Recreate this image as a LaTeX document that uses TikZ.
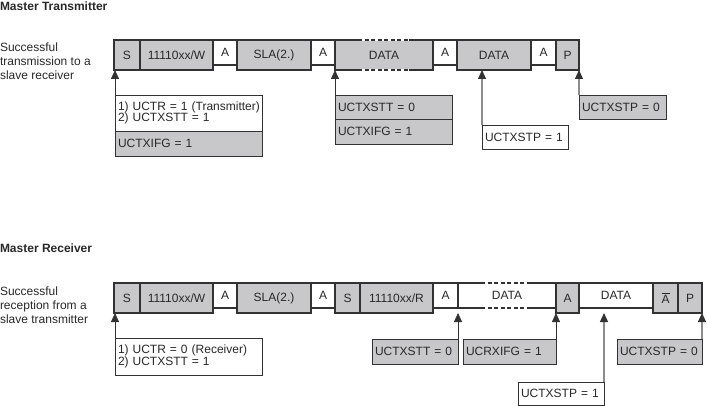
\documentclass[tikz,border=0pt]{standalone}
\usepackage{fontspec}
\setmainfont{Liberation Sans}
\usetikzlibrary{positioning,arrows.meta}
\definecolor{fieldgray}{RGB}{200,200,202}
\definecolor{framegray}{RGB}{50,50,50}
\definecolor{inkgray}{RGB}{40,40,40}

\begin{document}
\begin{tikzpicture}[x=1pt,y=-1pt,
		every node/.style={font=\fontsize{12}{11.5}\selectfont, text=inkgray, inner sep=0pt, outer sep=0pt},
		mfield/.style={draw=framegray, line width=1.5pt, fill=fieldgray, minimum height=30pt, minimum width=#1, anchor=north west},
		sfield/.style={draw=framegray, line width=1.5pt, fill=white, minimum height=25pt, minimum width=#1, anchor=north west},
		ctlbox/.style={draw=framegray, line width=0.8pt, fill=fieldgray, align=left, inner xsep=3pt},
		ctlwhite/.style={ctlbox, fill=white},
		sig/.style={draw=framegray, line width=0.8pt, -{Triangle[length=9pt,width=8pt,color=framegray]}},
		sigstop/.style={sig, draw=black!45, line width=1.2pt},
		datagap/.style={draw=white, line width=2pt},
		datadash/.style={draw=framegray, line width=2.5pt, dash pattern=on 4pt off 2.5pt}]
		\useasboundingbox (0,0) rectangle (707,406);

		% Master transmitter
		\node[anchor=west, font=\fontsize{12}{14}\bfseries] (ttitle) at (0,6) {Master Transmitter};
		\node[anchor=west, align=left, font=\fontsize{12}{14}\selectfont] (tdesc) at (0,61) {Successful\\transmission to a\\slave receiver};

		\node[mfield=26pt] (s1) at (114,40) {S};
		\node[mfield=73pt] (w1) at (s1.north east) {11110xx/W};
		\node[sfield=24pt] (a1) at (w1.north east) {A};
		\node[mfield=74pt] (sla1) at (a1.north east) {SLA(2.)};
		\node[sfield=24pt] (a2) at (sla1.north east) {A};
		\node[mfield=98pt] (d1) at (a2.north east) {DATA};
		\node[sfield=24pt] (a3) at (d1.north east) {A};
		\node[mfield=74pt] (d2) at (a3.north east) {DATA};
		\node[sfield=25pt] (a4) at (d2.north east) {A};
		\node[mfield=23pt] (p1) at (a4.north east) {P};
		\draw[datagap] ([xshift=23pt]d1.north west) -- ([xshift=74pt]d1.north west);
		\draw[datagap] ([xshift=23pt]d1.south west) -- ([xshift=74pt]d1.south west);
		\draw[datadash] ([xshift=23pt]d1.north west) -- ([xshift=74pt]d1.north west);
		\draw[datadash] ([xshift=23pt]d1.south west) -- ([xshift=74pt]d1.south west);

		\node[ctlwhite, anchor=north west, text width=141pt, minimum height=36pt] (c1) at (115,95) {\mbox{1) UCTR = 1 (Transmitter)}\\2) UCTXSTT = 1};
		\node[ctlbox, anchor=north west, text width=141pt, minimum height=25pt] (c1b) at (c1.south west) {UCTXIFG = 1};
		\node[ctlbox, anchor=north west, text width=111pt, minimum height=24pt] (c2) at (335,95) {UCTXSTT = 0};
		\node[ctlbox, anchor=north west, text width=111pt, minimum height=25pt] (c2b) at (c2.south west) {UCTXIFG = 1};
		\node[ctlwhite, anchor=north west, text width=80pt, minimum height=24pt] (c3) at (482,125) {UCTXSTP = 1};
		\node[ctlbox, anchor=north west, text width=81pt, minimum height=24pt] (c4) at (579,95) {UCTXSTP = 0};

		\draw[sig] (c1.north west) -- (c1.north west |- s1.south);
		\draw[sig] (c2.north west) -- (c2.north west |- d1.south);
		\draw[sigstop] (c3.north west) -- (c3.north west |- d2.south);
		\draw[sigstop] (c4.north west) -- (c4.north west |- p1.south);

		% Master receiver
		\node[anchor=west, font=\fontsize{12}{14}\bfseries] (rtitle) at (0,248) {Master Receiver};
		\node[anchor=west, align=left, font=\fontsize{12}{14}\selectfont] (rdesc) at (0,305) {Successful\\reception from a\\slave transmitter};

		\node[mfield=26pt] (s2) at (114,283) {S};
		\node[mfield=73pt] (w2) at (s2.north east) {11110xx/W};
		\node[sfield=24pt] (a5) at (w2.north east) {A};
		\node[mfield=74pt] (sla2) at (a5.north east) {SLA(2.)};
		\node[sfield=24pt] (a6) at (sla2.north east) {A};
		\node[mfield=25pt] (rs) at (a6.north east) {S};
		\node[mfield=73pt] (r2) at (rs.north east) {11110xx/R};
		\node[sfield=25pt] (a7) at (r2.north east) {A};
		\node[sfield=98pt] (d3) at (a7.north east) {DATA};
		\node[mfield=23pt] (ak) at (d3.north east) {A};
		\node[sfield=74pt] (d4) at (ak.north east) {DATA};
		\node[mfield=25pt] (nak) at (d4.north east) {$\overline{\mbox{A}}$};
		\node[mfield=24pt] (p2) at (nak.north east) {P};
		\draw[datagap] ([xshift=23pt]d3.north west) -- ([xshift=73pt]d3.north west);
		\draw[datagap] ([xshift=23pt]d3.south west) -- ([xshift=73pt]d3.south west);
		\draw[datadash] ([xshift=23pt]d3.north west) -- ([xshift=73pt]d3.north west);
		\draw[datadash] ([xshift=23pt]d3.south west) -- ([xshift=73pt]d3.south west);

		\node[ctlwhite, anchor=north west, text width=141pt, minimum height=37pt] (c5) at (115,338) {1) UCTR = 0 (Receiver)\\2) UCTXSTT = 1};
		\node[ctlbox, anchor=north east, text width=80pt, minimum height=25pt] (c6) at (458,339) {UCTXSTT = 0};
		\node[ctlbox, anchor=north east, text width=87pt, minimum height=25pt] (c7) at (556,339) {UCRXIFG = 1};
		\node[ctlwhite, anchor=north east, text width=80pt, minimum height=23pt] (c8) at (604,382) {UCTXSTP = 1};
		\node[ctlbox, anchor=north east, text width=79pt, minimum height=25pt] (c9) at (702,339) {UCTXSTP = 0};

		\draw[sig] (c5.north west) -- (c5.north west |- s2.south);
		\draw[sig] (c6.north east) -- (c6.north east |- r2.south);
		\draw[sig] (c7.north east) -- (c7.north east |- r2.south);
		\draw[sigstop] (c8.north east) -- (c8.north east |- r2.south);
		\draw[sigstop] (c9.north east) -- (c9.north east |- p2.south);
	\end{tikzpicture}
\end{document}
